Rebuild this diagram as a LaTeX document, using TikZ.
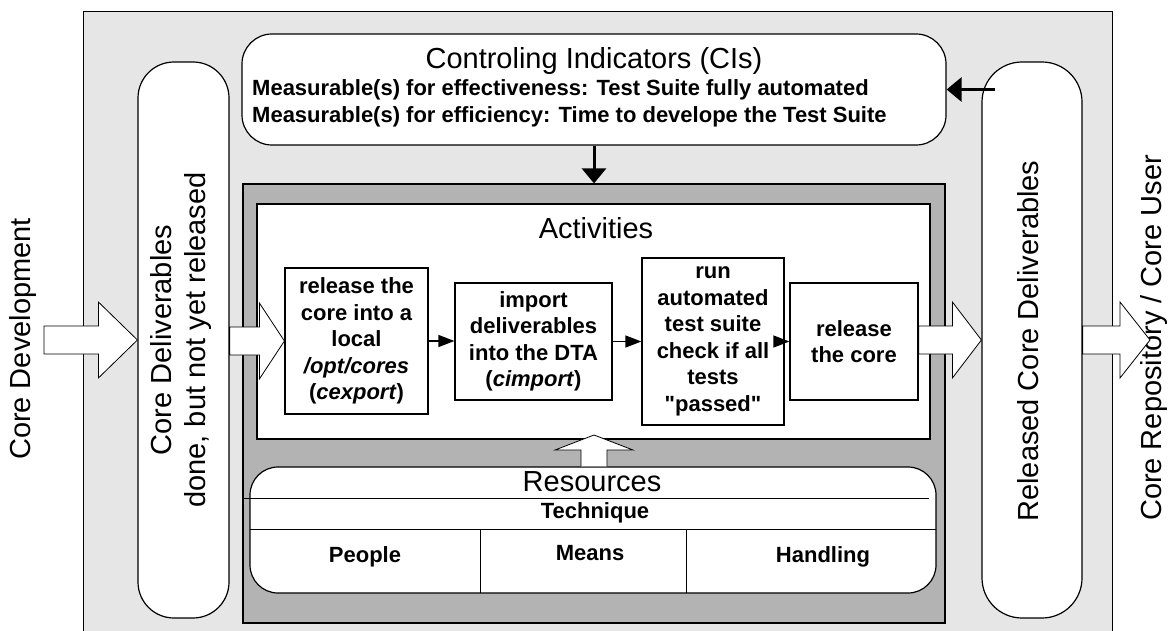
\documentclass[tikz,border=0pt]{standalone}
\usepackage{fontspec}
\setmainfont{Liberation Sans}
\newfontfamily\plainq[Ligatures=TeXOff]{Liberation Sans}
\usetikzlibrary{arrows.meta,calc}
\definecolor{outerbg}{HTML}{E6E6E6}
\definecolor{innerbg}{HTML}{B3B3B3}
\tikzset{
  frame/.style={draw=black, line width=1.2pt},
  pillbox/.style={frame, fill=white, rounded corners=#1, inner sep=0pt},
  actbox/.style={frame, fill=white, inner sep=2pt, align=center, font=\bfseries\fontsize{22}{26.5}\selectfont},
  heading/.style={font=\fontsize{29}{34}\selectfont, inner sep=0pt},
  boldlab/.style={font=\bfseries\fontsize{22}{27}\selectfont, inner sep=0pt},
  blockarrow/.style={draw=black, line width=0.8pt, fill=white, line join=miter},
  heavyarrow/.style={line width=3pt, -{Triangle[length=15pt,width=24pt]}},
  flow/.style={line width=1.2pt, -{Triangle[length=16pt,width=12pt]}},
}
\newcommand{\blockarr}[3]{%
  \draw[blockarrow] let \p1=(#1), \p2=(#2) in
    (\x1,\y2+14pt) -- (\x2-#3,\y2+14pt) -- (\x2-#3,\y2+38pt) -- (\x2,\y2)
    -- (\x2-#3,\y2-38pt) -- (\x2-#3,\y2-14pt) -- (\x1,\y2-14pt) -- cycle;}
\begin{document}
\begin{tikzpicture}[x=1pt,y=-1pt]
\useasboundingbox (0,0) rectangle (1169,631);
\clip (0,0) rectangle (1169,631);
% outer frame
\node[frame, fill=outerbg, minimum width=1029, minimum height=660, inner sep=0pt, anchor=north west] (outer) at (83,11) {};
% side pills
\node[pillbox=36, minimum width=91, minimum height=556] (lp) at (183.5,340) {};
\node[pillbox=40, minimum width=100, minimum height=556] (rp) at (1032,340) {};
% controlling indicators
\node[pillbox=30, minimum width=704, minimum height=111] (ci) at (594,89.5) {};
% dark box and activities
\node[frame, fill=innerbg, minimum width=702, minimum height=439, inner sep=0pt] (dark) at (594,403.5) {};
\node[frame, fill=white, minimum width=673, minimum height=235, inner sep=0pt] (act) at (593.5,321.5) {};
% resources
\node[pillbox=28, minimum width=686, minimum height=126] (res) at (593,530) {};
\draw[line width=1pt] (243,498) -- (929,498);
\draw[line width=1pt] (250,529) -- (936,529);
\draw[line width=1pt] (480,529) -- (480,593);
\draw[line width=1pt] (686,529) -- (686,593);
% texts
\node[heading] (citl) at (594,61) {Controling Indicators (CIs)};
\node[boldlab, align=left, anchor=west] (cim) at (252,103.5) {Measurable(s) for effectiveness: Test Suite fully automated\\Measurable(s) for efficiency: Time to develope the Test Suite};
\node[heading] (acttl) at (596,228) {Activities};
\node[heading] (restl) at (592,482) {Resources};
\node[boldlab] (tech) at (595,513) {Technique};
\node[boldlab] (peop) at (365,557) {People};
\node[boldlab] (mean) at (590,553) {Means};
\node[boldlab] (hand) at (823,557) {Handling};
\node[heading, rotate=90] (cdev) at (23,339) {Core Development};
\node[heading, rotate=90, align=center] (lptx) at (181,340) {Core Deliverables\\done, but not yet released};
\node[heading, rotate=90] (rptx) at (1028,341) {Released Core Deliverables};
\node[heading, rotate=90] (crep) at (1154,338) {Core Repository / Core User};
% activity boxes
\node[actbox, minimum width=143, minimum height=146] (b1) at (356.5,341) {release the\\core into a\\local\\\textit{/opt/cores}\\(\textit{cexport})};
\node[actbox, minimum width=157, minimum height=117] (b2) at (533.5,341.5) {import\\deliverables\\into the DTA\\(\textit{cimport})};
\node[actbox, minimum width=142, minimum height=167] (b3) at (713,341.5) {run\\automated\\test suite\\check if all\\tests\\{\plainq\bfseries "passed"}};
\node[actbox, minimum width=128, minimum height=117] (b4) at (854,341.5) {release\\the core};
\draw[flow] (b1.east) -- (b1.east -| b2.west);
\draw[flow] (b2.east) -- (b3.west);
\draw[flow] (b3.east) -- (b4.west);
% heavy arrows
\draw[heavyarrow] (ci.south) -- (dark.north);
\coordinate (rpk) at (995,89.5);
\draw[heavyarrow] (rpk) -- (ci.east);
% block arrows
\coordinate (cdsrc) at (44,340);
\coordinate (crsink) at (1150,340);
\blockarr{cdsrc}{lp.west}{39pt}
\blockarr{lp.east}{b1.west}{25pt}
\blockarr{b4.east}{rp.west}{29pt}
\blockarr{rp.east}{crsink}{30pt}
\coordinate (uptip) at (594,435);
\draw[blockarrow] let \p1=(res.north), \p2=(uptip) in
  (\x2-13pt,\y1) -- (\x2-13pt,\y2-15pt) -- (\x2-39pt,\y2-15pt) -- (\x2,\y2)
  -- (\x2+39pt,\y2-15pt) -- (\x2+13pt,\y2-15pt) -- (\x2+13pt,\y1);
\end{tikzpicture}
\end{document}
